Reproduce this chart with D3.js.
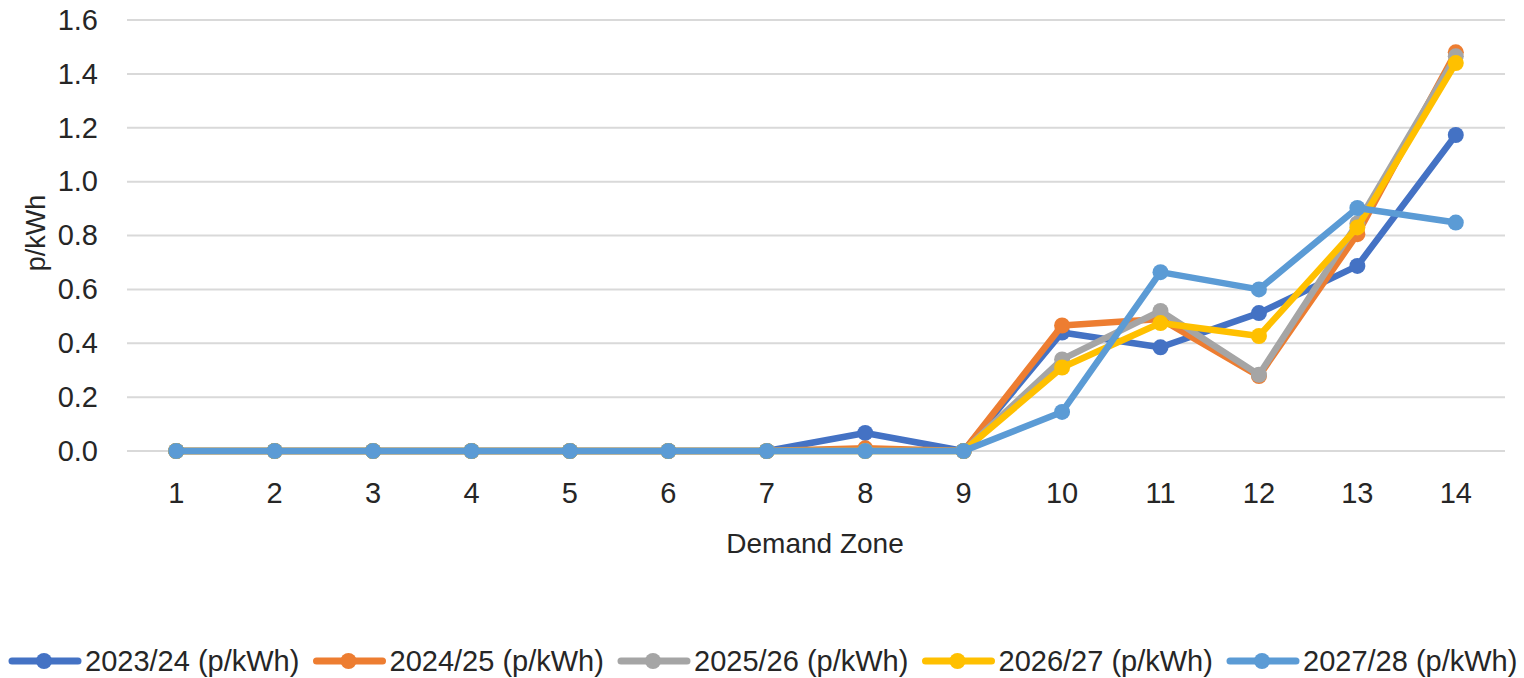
<!DOCTYPE html>
<html>
<head>
<meta charset="utf-8">
<script src="https://cdn.jsdelivr.net/npm/d3@7"></script>
<style>
  html, body { margin: 0; padding: 0; background: #ffffff; }
  svg { display: block; font-family: "Liberation Sans", Arial, sans-serif; }
</style>
</head>
<body>
<svg id="chart" width="1524" height="678"></svg>
<script>
// Demand zones along the x axis
const zones = [1, 2, 3, 4, 5, 6, 7, 8, 9, 10, 11, 12, 13, 14];

// Tariff per demand zone, p/kWh, one array per charging year
const y2023 = [0, 0, 0, 0, 0, 0, 0, 0.067, 0, 0.44, 0.385, 0.512, 0.687, 1.173];
const y2024 = [0, 0, 0, 0, 0, 0, 0, 0.01, 0, 0.466, 0.49, 0.278, 0.805, 1.48];
const y2025 = [0, 0, 0, 0, 0, 0, 0, 0, 0, 0.34, 0.52, 0.283, 0.845, 1.465];
const y2026 = [0, 0, 0, 0, 0, 0, 0, 0, 0, 0.31, 0.475, 0.427, 0.83, 1.44];
const y2027 = [0, 0, 0, 0, 0, 0, 0, 0, 0, 0.145, 0.664, 0.60, 0.902, 0.848];

const seriesNames = ["2023/24 (p/kWh)", "2024/25 (p/kWh)", "2025/26 (p/kWh)", "2026/27 (p/kWh)", "2027/28 (p/kWh)"];
const seriesValues = [y2023, y2024, y2025, y2026, y2027];
const seriesColors = ["#4472C4", "#ED7D31", "#A5A5A5", "#FFC000", "#5B9BD5"];

const yTicks = [0, 0.2, 0.4, 0.6, 0.8, 1.0, 1.2, 1.4, 1.6];

const svg = d3.select("#chart");
const plot = { left: 127, right: 1505, top: 20, bottom: 451 };
const textColor = "#262626";

const x = d3.scaleBand()
  .domain(zones)
  .range([plot.left, plot.right]);

const y = d3.scaleLinear()
  .domain([0, 1.6])
  .range([plot.bottom, plot.top]);

const xc = d => x(d) + x.bandwidth() / 2;

// Horizontal gridlines
svg.append("g")
  .selectAll("line")
  .data(yTicks)
  .join("line")
  .attr("x1", plot.left)
  .attr("x2", plot.right)
  .attr("y1", d => y(d))
  .attr("y2", d => y(d))
  .attr("stroke", "#d9d9d9")
  .attr("stroke-width", 2);

// Y axis tick labels
const yAxis = svg.append("g")
  .attr("transform", `translate(${plot.left - 29},0)`)
  .call(d3.axisLeft(y).tickValues(yTicks).tickFormat(d3.format(".1f")).tickSize(0).tickPadding(0));
yAxis.select(".domain").remove();
yAxis.selectAll("text")
  .attr("font-size", 29)
  .attr("fill", textColor)
  .attr("font-family", "Liberation Sans, Arial, sans-serif");

// X axis tick labels
const xAxis = svg.append("g")
  .attr("transform", `translate(0,${plot.bottom})`)
  .call(d3.axisBottom(x).tickSize(0).tickPadding(31));
xAxis.select(".domain").remove();
xAxis.selectAll("text")
  .attr("font-size", 29)
  .attr("fill", textColor)
  .attr("font-family", "Liberation Sans, Arial, sans-serif");

// Axis titles
svg.append("text")
  .attr("x", (plot.left + plot.right) / 2 - 1)
  .attr("y", 553)
  .attr("text-anchor", "middle")
  .attr("font-size", 28)
  .attr("fill", textColor)
  .text("Demand Zone");

svg.append("text")
  .attr("transform", "translate(45,233) rotate(-90)")
  .attr("text-anchor", "middle")
  .attr("font-size", 27)
  .attr("fill", textColor)
  .text("p/kWh");

// Series lines and markers
const line = d3.line()
  .x((d, i) => xc(zones[i]))
  .y(d => y(d));

seriesValues.forEach((vals, s) => {
  const g = svg.append("g");
  g.append("path")
    .datum(vals)
    .attr("d", line)
    .attr("fill", "none")
    .attr("stroke", seriesColors[s])
    .attr("stroke-width", 6.5)
    .attr("stroke-linejoin", "round")
    .attr("stroke-linecap", "round");
  g.selectAll("circle")
    .data(vals)
    .join("circle")
    .attr("cx", (d, i) => xc(zones[i]))
    .attr("cy", d => y(d))
    .attr("r", 8)
    .attr("fill", seriesColors[s]);
});

// Legend
const legend = svg.append("g");
seriesNames.forEach((name, i) => {
  const x0 = 10 + i * 304.5;
  const item = legend.append("g").attr("transform", `translate(${x0},661)`);
  item.append("line")
    .attr("x1", 2).attr("x2", 68)
    .attr("y1", 0).attr("y2", 0)
    .attr("stroke", seriesColors[i])
    .attr("stroke-width", 7)
    .attr("stroke-linecap", "round");
  item.append("circle")
    .attr("cx", 34).attr("cy", 0).attr("r", 8)
    .attr("fill", seriesColors[i]);
  item.append("text")
    .attr("x", 75)
    .attr("y", 10)
    .attr("font-size", 29)
    .attr("fill", textColor)
    .text(name);
});
</script>
</body>
</html>
